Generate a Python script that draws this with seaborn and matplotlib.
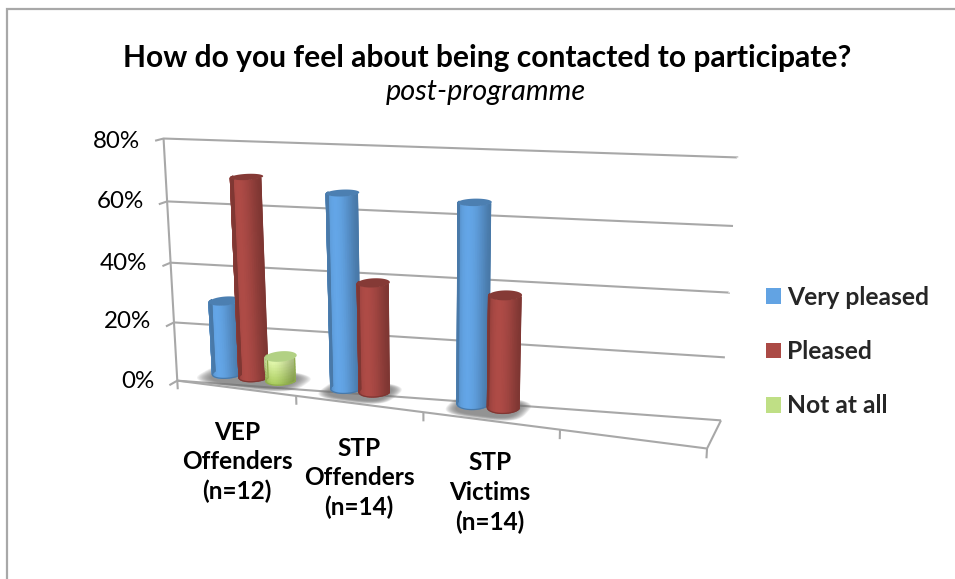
import numpy as np
import pandas as pd
import seaborn as sns
import matplotlib
matplotlib.use("Agg")
import matplotlib.pyplot as plt
from matplotlib.collections import QuadMesh
from matplotlib.colors import to_rgb
from matplotlib.patches import Patch, Polygon
from matplotlib.transforms import Affine2D

groups = ["VEP\nOffenders\n(n=12)", "STP\nOffenders\n(n=14)", "STP\nVictims\n(n=14)", ""]
series = ["Very pleased", "Pleased", "Not at all"]
very_pleased = [25, 64, 64, 0]
pleased = [67, 36, 36, 0]
not_at_all = [8, 0, 0, 0]
colors = ["#62A3E3", "#AB4A45", "#BFDF85"]
y_ticks = [0, 20, 40, 60, 80]
title = "How do you feel about being contacted to participate?"
subtitle = "post-programme"

W, H = 955, 579
FONT = "Lato"
GRID = "#A8A8A8"
sns.set_theme(style="white")
plt.rcParams["font.family"] = [FONT, "DejaVu Sans"]

# Calibration of the perspective box: (category fraction, value, depth) -> pixel
calib = [
    (0, 0, 0, 179, 379), (0, 20, 0, 173, 322), (0, 40, 0, 170, 263), (0, 60, 0, 167, 201), (0, 80, 0, 163, 139),
    (0, 0, 1, 213, 359), (0, 20, 1, 212, 305), (0, 40, 1, 209, 246), (0, 60, 1, 207, 188), (0, 80, 1, 204, 128),
    (1, 0, 1, 721, 420), (1, 20, 1, 725, 357), (1, 40, 1, 729, 293), (1, 60, 1, 733, 226), (1, 80, 1, 737, 157),
    (1, 0, 0, 707, 448), (.25, 0, 0, 297, 396), (.5, 0, 0, 423, 414), (.75, 0, 0, 560, 430),
]
rows = []
for u, v, w, x, y in calib:
    p = [u, v / 80, w, 1]
    rows.append(p + [0, 0, 0, 0] + [-x * c for c in p])
    rows.append([0, 0, 0, 0] + p + [-y * c for c in p])
P = np.linalg.svd(np.array(rows, float))[2][-1].reshape(3, 4)


def project(u, v, w):
    u, v, w = np.broadcast_arrays(np.asarray(u, float), np.asarray(v, float), np.asarray(w, float))
    q = P @ np.stack([u, v / 80, w, np.ones_like(u)])
    return np.stack([q[0] / q[2], q[1] / q[2]], axis=-1)


fig = plt.figure(figsize=(W / 100, H / 100), dpi=100, facecolor="white")
ax = fig.add_axes([0, 0, 1, 1])
df = pd.DataFrame({
    "group": np.tile(groups, 3),
    "series": np.repeat(series, 4),
    "share": very_pleased + pleased + not_at_all,
})
sns.barplot(data=df, x="group", y="share", hue="series", hue_order=series, order=groups,
            palette=colors, width=0.69, gap=0, errorbar=None, legend=False, ax=ax)
ax.set_xlim(-0.5, 3.5)
ax.set_ylim(0, 80)
bars = [b for b in ax.patches]
ax.axis("off")
pix = Affine2D().scale(1, -1).translate(0, H)


def line(pts, lw=1.5, z=2):
    pts = np.asarray(pts)
    ax.plot(pts[:, 0], pts[:, 1], color=GRID, lw=lw, transform=pix, zorder=z, clip_on=False,
            solid_capstyle="butt", solid_joinstyle="miter")


# Outer frame
line([(7, H), (7, 9), (W, 9)], lw=1.6)

# Walls, floor and ticks
for v in y_ticks:
    line(project([0, 0, 1], [v, v, v], [-0.2, 0, 1]).tolist() + [project(1, v, 1).tolist()])
line(project([0, 0], [0, 80], [0, 0]))
line(project([0, 1, 1], [0, 0, 0], [0, 0, 1]))
for u in np.arange(5) / 4:
    line(project([u, u], [0, -3], [0, 0]))

DEPTH = 0.53
R_W = 0.24


def bar_geometry(b):
    return (b.get_x() + b.get_width() / 2 + 0.5) / 4, b.get_width() / 8, b.get_height()


# Floor shadows
gray = "#707070"
for g in range(3):
    members = [bar_geometry(b) for i, b in enumerate(bars) if i % 4 == g and b.get_height() > 0]
    u0 = min(m[0] - m[1] for m in members)
    u1 = max(m[0] + m[1] for m in members)
    uc, hu = (u0 + u1) / 2, (u1 - u0) / 2
    for k in range(12):
        s = 1 - 0.04 + 0.3 * (1 - k / 11)
        t = np.linspace(0, 2 * np.pi, 80)
        e = 0.6
        uu = uc + 0.004 + (hu * s) * np.sign(np.cos(t)) * np.abs(np.cos(t)) ** e
        ww = 0.45 + 0.34 * s * np.sign(np.sin(t)) * np.abs(np.sin(t)) ** e
        ax.add_patch(Polygon(project(uu, 0 * t, ww), closed=True, fc=gray, ec="none", alpha=0.10,
                             transform=pix, zorder=3))

order = sorted(range(len(bars)), key=lambda i: bars[i].get_x())
for i in order:
    b = bars[i]
    b.set_visible(False)
    uc, ru, h = bar_geometry(b)
    if h <= 0:
        continue
    si = i // 4
    base = np.array(to_rgb(colors[si]))
    z = 5 + i * 0.01
    th = np.linspace(0, np.pi, 25)
    uu = uc + ru * np.cos(th)
    ww = DEPTH - R_W * np.sin(th)
    layers = 8 if si == 2 else 1
    levels = np.linspace(0, h, layers + 1)
    pts = np.stack([project(uu, lv, ww) for lv in levels])
    lit = 0.74 + 0.28 * (1 - np.cos(th) ** 2)
    if si == 2:
        low, high = np.array(to_rgb("#A9CC5C")), np.array(to_rgb("#E3F8AE"))
        mix = (levels / h)[:, None, None]
        rgb = (low * (1 - mix) + high * mix) * (0.76 + 0.24 * (1 - np.cos(th) ** 2))[None, :, None]
    else:
        rgb = np.tile(base[None, None, :] * lit[None, :, None], (layers + 1, 1, 1))
    rgb = np.clip(rgb, 0, 1)
    mesh = QuadMesh(pts, shading="gouraud", transform=pix, zorder=z)
    mesh.set_array(rgb)
    ax.add_collection(mesh, autolim=False)
    # Smooth silhouette over the mesh edges
    outline = np.vstack([project(uu, h, ww)[:1], project(uu, 0, ww), project(uu, h, ww)[-1:]])
    edge = (np.array(to_rgb("#A9CC5C")) * 0.85) if si == 2 else base * 0.74
    ax.plot(outline[:, 0], outline[:, 1], color=edge, lw=0.9, transform=pix, zorder=z + 0.0005)
    t = np.linspace(0, 2 * np.pi, 64)
    top = project(uc + ru * np.cos(t), h, DEPTH + R_W * np.sin(t))
    cap = np.array(to_rgb("#B2D184")) if si == 2 else base * 0.78
    ax.add_patch(Polygon(top, closed=True, fc=cap, ec="none", transform=pix, zorder=z + 0.001))


def label(x, y, s, **kw):
    ax.text(x, y, s, transform=pix, clip_on=False, **kw)


label(487, 58.5, title, fontsize=21.6, fontweight="bold", color="black", ha="center", va="center")
label(486, 92, subtitle, fontsize=20.8, fontstyle="italic", color="black", ha="center", va="center")

tick_label_y = [382, 322, 263, 201, 141]
for v, ty in zip(y_ticks, tick_label_y):
    x = project(0, v, -0.2)[0]
    label(x - 15, ty, f"{v}%", fontsize=17.4, color="black", ha="right", va="center")

for s, (x, y) in zip(groups[:3], [(237, 462), (359, 478), (490, 492.5)]):
    label(x, y, s, fontsize=17.6, fontweight="bold", color="black", ha="center", va="center",
          multialignment="center", linespacing=1.345)

handles = [Patch(fc=c, ec="none") for c in colors]
ax.legend(handles, series, loc="upper left", bbox_to_anchor=(766 / W, 1 - 286 / H),
          bbox_transform=fig.transFigure, frameon=False, borderpad=0, borderaxespad=0,
          handlelength=0.61, handleheight=0.61, handletextpad=0.24, labelspacing=1.27,
          prop={"family": FONT, "weight": "bold", "size": 17.7})

fig.savefig("out.png", dpi=100, facecolor="white")
